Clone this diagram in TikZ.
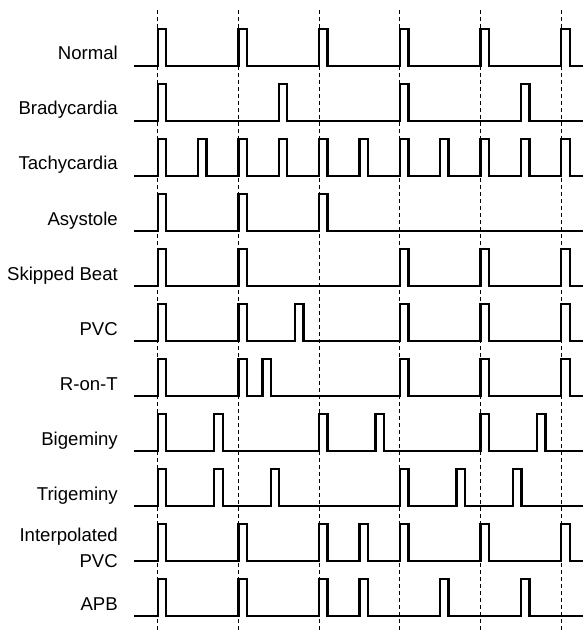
\documentclass[tikz,border=0pt]{standalone}
\usepackage{fontspec}
\setmainfont{Liberation Sans}
\begin{document}
\begin{tikzpicture}[x=1pt,y=-1pt,
  grid/.style={line width=0.8pt,dash pattern=on 4pt off 3pt},
  sig/.style={line width=2.4pt,line join=miter},
  lbl/.style={anchor=base east,font=\fontsize{18.6}{26}\selectfont,inner sep=0pt,align=right}]
\useasboundingbox (0,0) rectangle (583,631);
% dashed reference lines
\foreach \x in {157.7,238.4,319.1,399.8,480.5,561.2}
  \draw[grid] (\x,10) -- (\x,631);
% rows: label, baseline, pulse positions
\foreach \name/\txt/\b/\pulses in {
  normal/Normal/66/{157.7,238.4,319.1,399.8,480.5,561.2},
  brady/Bradycardia/121/{157.7,278.75,399.8,520.85},
  tachy/Tachycardia/176/{157.7,198.05,238.4,278.75,319.1,359.45,399.8,440.15,480.5,520.85,561.2},
  asys/Asystole/231/{157.7,238.4,319.1},
  skip/Skipped Beat/286/{157.7,238.4,399.8,480.5,561.2},
  pvc/PVC/341/{157.7,238.4,294.9,399.8,480.5,561.2},
  ront/R-on-T/396/{157.7,238.4,262.6,399.8,480.5,561.2},
  bigem/Bigeminy/451/{157.7,214.2,319.1,375.6,480.5,537.0},
  trigem/Trigeminy/506/{157.7,214.2,270.7,399.8,456.3,512.8},
  apb/APB/616/{157.7,238.4,319.1,359.45,440.15,520.85}}
{
  \node[lbl] (\name) at (118,\b-6) {\txt};
  \draw[sig] (134,\b) \foreach \x in \pulses {
      -- (\x,\b) -- (\x,\b-37) -- (\x+8.5,\b-37) -- (\x+8.5,\b) } -- (583,\b);
}
% interpolated PVC (two-line label)
\node[lbl] (interp) at (118,541.5) {Interpolated};
\node[lbl] (interp2) at (118,567.5) {PVC};
\draw[sig] (134,561) \foreach \x in {157.7,238.4,319.1,359.45,399.8,480.5,561.2} {
    -- (\x,561) -- (\x,561-37) -- (\x+8.5,561-37) -- (\x+8.5,561) } -- (583,561);
\end{tikzpicture}
\end{document}
